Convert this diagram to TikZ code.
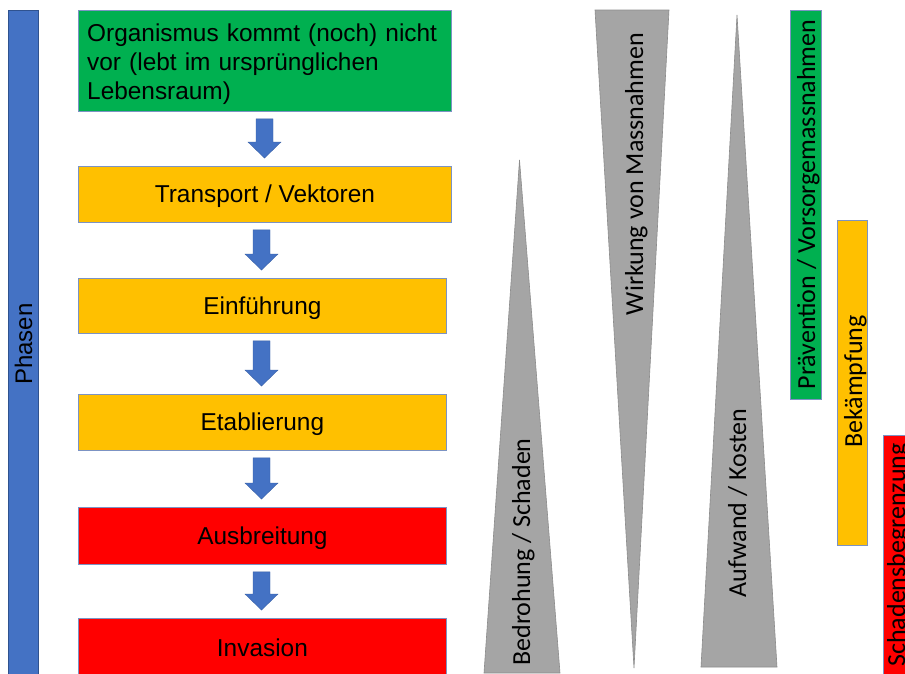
\documentclass[tikz,border=0pt]{standalone}
\usepackage{fontspec}
\setmainfont{Liberation Sans}
\newfontfamily\calfont{Carlito}
\usetikzlibrary{calc}
\definecolor{phblue}{HTML}{4472C4}
\definecolor{phborder}{HTML}{2F528F}
\definecolor{boxedge}{HTML}{7C93C3}
\definecolor{pgreen}{HTML}{00B050}
\definecolor{pyellow}{HTML}{FFC000}
\definecolor{pred}{HTML}{FF0000}
\definecolor{tgrey}{HTML}{A5A5A5}
\definecolor{tedge}{HTML}{8C8C8C}
\newcommand\flowarrow[3]{%
  \filldraw[arrowstyle] let \p1=(#1.south), \p2=(#2.north) in
    ({#3pt-8.5pt},{\y1-7pt}) -- ({#3pt+8.5pt},{\y1-7pt}) --
    ({#3pt+8.5pt},{\y2+24pt}) -- ({#3pt+16.5pt},{\y2+24pt}) --
    ({#3pt},{\y2+8pt}) -- ({#3pt-16.5pt},{\y2+24pt}) --
    ({#3pt-8.5pt},{\y2+24pt}) -- cycle;}
\newcommand\lowtext[1]{\raisebox{-2pt}[\height][\depth]{#1}}
\begin{document}
\begin{tikzpicture}[x=1pt,y=-1pt,
  phasebox/.style={draw=boxedge, line width=0.8pt, inner sep=0pt,
    anchor=north west, font=\fontsize{24.4}{29}\selectfont},
  bar/.style={draw=boxedge, line width=0.8pt, inner sep=0pt, rotate=90},
  vlabel/.style={rotate=90, anchor=base, inner sep=0pt,
    font=\calfont\fontsize{26}{31}\selectfont},
  arrowstyle/.style={fill=phblue, draw=phblue!85!black, line width=0.4pt},
  tri/.style={fill=tgrey, draw=tedge, line width=0.6pt}]
\clip (0,0) rectangle (905,673);
\fill[white] (0,0) rectangle (905,673);

% Phasen bar
\node[bar, draw=phborder, fill=phblue, minimum width=666, minimum height=30]
  (phasenbar) at (23,343) {};
\node[rotate=90, anchor=base, inner sep=0pt, font=\fontsize{24}{29}\selectfont]
  (phasen) at (32,344) {Phasen};

% phase boxes
\node[phasebox, fill=pgreen, minimum width=373, minimum height=101]
  (org) at (78,10) {};
\node[anchor=base west, inner sep=0pt, text width=362, align=left,
  font=\fontsize{24.4}{29}\selectfont] (orgtext) at (87,41)
  {Organismus kommt (noch) nicht\\vor (lebt im ursprünglichen\\Lebensraum)};
\node[phasebox, fill=pyellow, minimum width=373, minimum height=56]
  (trans) at (78,166) {\lowtext{Transport / Vektoren}};
\node[phasebox, fill=pyellow, minimum width=368, minimum height=55]
  (einf) at (78,278) {\lowtext{Einführung}};
\node[phasebox, fill=pyellow, minimum width=368, minimum height=56]
  (etab) at (78,394) {\lowtext{Etablierung}};
\node[phasebox, fill=pred, minimum width=368, minimum height=57]
  (ausb) at (78,507) {\lowtext{Ausbreitung}};
\node[phasebox, fill=pred, minimum width=368, minimum height=58]
  (inva) at (78,618) {Invasion};

% block arrows
\flowarrow{org}{trans}{264.5}
\flowarrow{trans}{einf}{261.5}
\flowarrow{einf}{etab}{261.5}
\flowarrow{etab}{ausb}{261.5}
\flowarrow{ausb}{inva}{261.5}

% triangles
\draw[tri] (519.5,160) -- (560,673) -- (484,673) -- cycle;
\node[vlabel] (bedr) at (530,552) {Bedrohung / Schaden};
\draw[tri] (595,10) -- (669,10) -- (634,668) -- cycle;
\node[vlabel] (wirk) at (643,174) {Wirkung von Massnahmen};
\draw[tri] (737,15) -- (777,667) -- (701,667) -- cycle;
\node[vlabel] (aufw) at (746,503) {Aufwand / Kosten};

% measure bars
\node[bar, fill=pgreen, minimum width=389, minimum height=31]
  (praevbar) at (805.5,204.5) {};
\node[vlabel] (praev) at (815,204.5) {Prävention / Vorsorgemassnahmen};
\node[bar, fill=pyellow, minimum width=325, minimum height=30]
  (bekbar) at (852,382.5) {};
\node[vlabel] (bek) at (862,381.5) {Bekämpfung};
\node[bar, fill=pred, minimum width=240, minimum height=31]
  (schadbar) at (898.5,555) {};
\node[vlabel] (schad) at (905,555) {Schadensbegrenzung};
\end{tikzpicture}
\end{document}
